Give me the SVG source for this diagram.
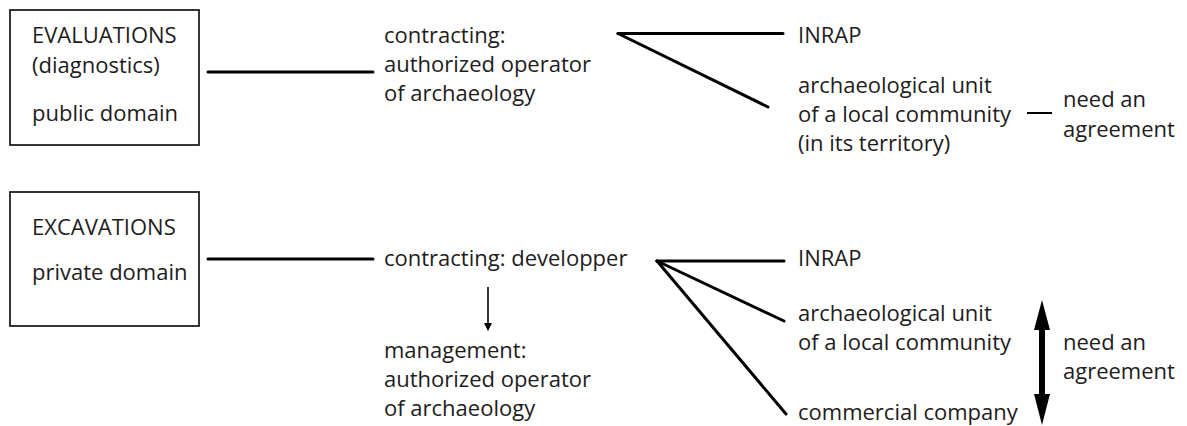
<svg xmlns="http://www.w3.org/2000/svg" width="1187" height="426" viewBox="0 0 1187 426">
<defs>
<style>
text{font-family:"Open Sans","Liberation Sans",sans-serif;font-size:22px;fill:#1e1c1c}
.box{fill:#fff;stroke:#231f20;stroke-width:1.8}
.con{stroke:#000;stroke-width:3;fill:none;stroke-linecap:round}
</style>
<marker id="ah" markerWidth="8" markerHeight="12" refX="7" refY="6" orient="auto" markerUnits="userSpaceOnUse">
<path d="M0,2 L8,6 L0,10 Z" fill="#000"/>
</marker>
</defs>
<rect width="1187" height="426" fill="#fff"/>
<g id="connectors">
<line class="con" x1="208" y1="72" x2="373" y2="72"/>
<line class="con" x1="618" y1="33.5" x2="783" y2="33.5"/>
<line class="con" x1="618" y1="33.5" x2="768" y2="107"/>
<line x1="1027" y1="113" x2="1052" y2="113" stroke="#000" stroke-width="2"/>
<line class="con" x1="208" y1="259" x2="373" y2="259"/>
<line class="con" x1="657" y1="261" x2="784" y2="261"/>
<line class="con" x1="657" y1="261" x2="784" y2="321"/>
<line class="con" x1="657" y1="261" x2="786" y2="414"/>
<line x1="488" y1="287" x2="488" y2="330" stroke="#000" stroke-width="1.6" marker-end="url(#ah)"/>
<path d="M1042,300 L1050,330 L1045,330 L1045,394 L1050,394 L1042,425 L1034,394 L1039,394 L1039,330 L1034,330 Z" fill="#000"/>
</g>
<g id="evaluations">
<rect class="box" x="10" y="10" width="189" height="135"/>
<text x="32" y="43">EVALUATIONS</text>
<text x="32" y="73">(diagnostics)</text>
<text x="32" y="121">public domain</text>
</g>
<g id="contracting-operator">
<text x="384" y="43">contracting:</text>
<text x="384" y="72">authorized operator</text>
<text x="384" y="101">of archaeology</text>
</g>
<g id="inrap-top">
<text x="798" y="43">INRAP</text>
</g>
<g id="unit-top">
<text x="798" y="93">archaeological unit</text>
<text x="798" y="122">of a local community</text>
<text x="798" y="151">(in its territory)</text>
</g>
<g id="agreement-top">
<text x="1063" y="107">need an</text>
<text x="1063" y="137">agreement</text>
</g>
<g id="excavations">
<rect class="box" x="10" y="192" width="189" height="134"/>
<text x="32" y="235">EXCAVATIONS</text>
<text x="32" y="280">private domain</text>
</g>
<g id="contracting-developper">
<text x="384" y="266">contracting: developper</text>
</g>
<g id="management">
<text x="384" y="358">management:</text>
<text x="384" y="387">authorized operator</text>
<text x="384" y="416">of archaeology</text>
</g>
<g id="inrap-bottom">
<text x="798" y="266">INRAP</text>
</g>
<g id="unit-bottom">
<text x="798" y="321">archaeological unit</text>
<text x="798" y="350">of a local community</text>
</g>
<g id="commercial">
<text x="798" y="420">commercial company</text>
</g>
<g id="agreement-bottom">
<text x="1063" y="350">need an</text>
<text x="1063" y="379">agreement</text>
</g>
</svg>
